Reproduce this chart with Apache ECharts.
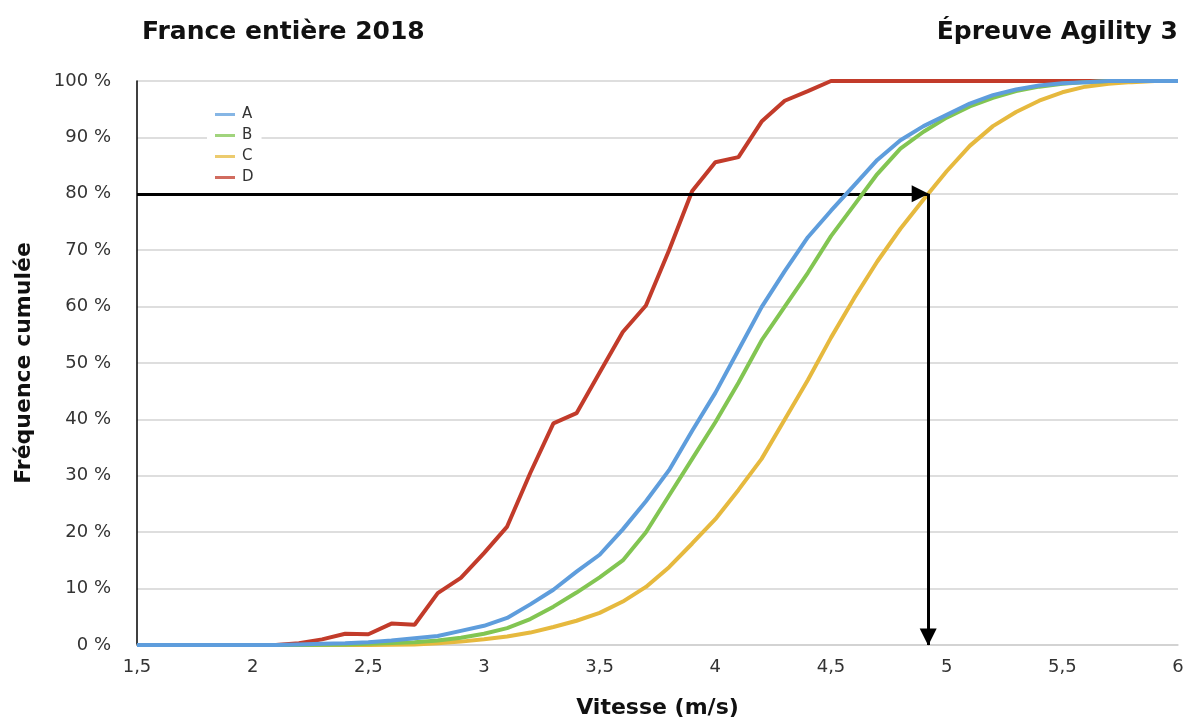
<!DOCTYPE html>
<html>
<head>
<meta charset="utf-8">
<script src="https://cdn.jsdelivr.net/npm/echarts@6/dist/echarts.min.js"></script>
<style>
html,body{margin:0;padding:0;background:#fff;}
#chart{width:1189px;height:722px;}
</style>
</head>
<body>
<div id="chart"></div>
<script>
// Speeds (m/s)
const speeds = [1.5,1.6,1.7,1.8,1.9,2.0,2.1,2.2,2.3,2.4,2.5,2.6,2.7,2.8,2.9,3.0,3.1,3.2,3.3,3.4,3.5,3.6,3.7,3.8,3.9,4.0,4.1,4.2,4.3,4.4,4.5,4.6,4.7,4.8,4.9,5.0,5.1,5.2,5.3,5.4,5.5,5.6,5.7,5.8,5.9,6.0];
// Cumulative frequency (%)
const seriesA = [0,0,0,0,0,0,0,0.1,0.2,0.3,0.5,0.8,1.2,1.6,2.5,3.4,4.8,7.2,9.8,13,16,20.5,25.5,31,38,44.7,52.3,59.9,66.3,72.3,77,81.5,86,89.5,92,94,96,97.5,98.5,99.2,99.6,99.8,100,100,100,100];
const seriesB = [0,0,0,0,0,0,0,0,0.05,0.1,0.2,0.35,0.5,0.8,1.3,2,3,4.6,6.8,9.3,12,15,20,26.5,33,39.5,46.5,54,60,66,72.5,78,83.5,88,91,93.5,95.5,97,98.2,99,99.5,99.8,100,100,100,100];
const seriesC = [0,0,0,0,0,0,0,0,0,0,0,0.05,0.1,0.3,0.6,1,1.5,2.2,3.2,4.3,5.7,7.7,10.3,13.8,18,22.3,27.5,33,40,47,54.5,61.5,68,73.8,79,84,88.5,92,94.5,96.5,98,99,99.5,99.8,100,100];
const seriesD = [0,0,0,0,0,0,0,0.3,1.0,2.0,1.9,3.8,3.6,9.2,11.9,16.3,21,30.5,39.3,41.1,48.3,55.5,60.2,70,80.5,85.6,86.5,92.8,96.5,98.2,100,100,100,100,100,100,100,100,100,100,100,100,100,100,100,100];
const seriesNames = ['A','B','C','D'];
const xTickValues = [1.5,2,2.5,3,3.5,4,4.5,5,5.5,6];
const xTickLabels = ['1,5','2','2,5','3','3,5','4','4,5','5','5,5','6'];
const yTickValues = [0,10,20,30,40,50,60,70,80,90,100];
const yTickLabels = ['0 %','10 %','20 %','30 %','40 %','50 %','60 %','70 %','80 %','90 %','100 %'];
// Reading arrow: 80 % reached at this speed
const arrowSpeed = 4.92;
const arrowFreq = 80;

const colors = ['#5e9ddc','#82c552','#e6b93e','#c23b2a'];
const values = [seriesA, seriesB, seriesC, seriesD];
const zs = [6,5,4,3];
const font = 'DejaVu Sans';

const chart = echarts.init(document.getElementById('chart'), null, {renderer:'canvas'});

const lineSeries = seriesNames.map((n,i)=>({
  name:n, type:'line', symbol:'none', z:zs[i],
  data: speeds.map((s,k)=>[s, values[i][k]]),
  lineStyle:{color:colors[i], width:4},
  itemStyle:{color:colors[i]},
  emphasis:{disabled:true}
}));

lineSeries.push({
  name:'arrows', type:'line', data:[], z:10, silent:true,
  markLine:{
    silent:true, animation:false,
    symbol:['none','triangle'], symbolSize:17,
    symbolOffset:[[0,0],[0,8]],
    label:{show:false},
    lineStyle:{color:'#000', width:3, type:'solid'},
    emphasis:{disabled:true},
    data:[
      [{coord:[speeds[0], arrowFreq]},{coord:[arrowSpeed, arrowFreq]}],
      [{coord:[arrowSpeed, arrowFreq]},{coord:[arrowSpeed, 0]}]
    ]
  }
});

chart.setOption({
  animation:false,
  backgroundColor:'#fff',
  title:[
    {text:'France entière 2018', left:142, top:20, padding:0, textStyle:{fontFamily:font, fontWeight:'bold', fontSize:25, color:'#111'}},
    {text:'Épreuve Agility 3', right:11, top:20, padding:0, textStyle:{fontFamily:font, fontWeight:'bold', fontSize:25, color:'#111'}}
  ],
  legend:{
    data:seriesNames, orient:'vertical', left:207, top:105,
    icon:'rect', itemWidth:20, itemHeight:3, itemGap:6,
    backgroundColor:'#fff', padding:[2,8,2,8],
    textStyle:{fontFamily:font, fontSize:15, color:'#333', padding:[0,0,0,2]},
    itemStyle:{opacity:0.75},
    selectedMode:false
  },
  grid:{left:137, right:11, top:81, bottom:77, containLabel:false, outerBoundsMode:'none'},
  xAxis:{
    type:'value', min:1.5, max:6, interval:0.5,
    name:'Vitesse (m/s)', nameLocation:'middle', nameGap:52,
    nameTextStyle:{fontFamily:font, fontWeight:'bold', fontSize:22, color:'#111'},
    axisLine:{show:true, lineStyle:{color:'#cfcfcf', width:1.5}},
    axisTick:{show:false},
    splitLine:{show:false},
    axisLabel:{fontFamily:font, fontSize:18, color:'#333', margin:13,
      formatter:v=>{const i=xTickValues.findIndex(t=>Math.abs(t-v)<1e-6); return i>=0?xTickLabels[i]:'';}}
  },
  yAxis:{
    type:'value', min:0, max:100, interval:10,
    name:'Fréquence cumulée', nameLocation:'middle', nameGap:102,
    nameTextStyle:{fontFamily:font, fontWeight:'bold', fontSize:22, color:'#111'},
    axisLine:{show:true, lineStyle:{color:'#000', width:1.5}},
    axisTick:{show:false},
    splitLine:{show:true, lineStyle:{color:'#d3d3d3', width:1.5}},
    axisLabel:{fontFamily:font, fontSize:18, color:'#333', margin:26,
      formatter:v=>{const i=yTickValues.indexOf(Math.round(v)); return i>=0?yTickLabels[i]:'';}}
  },
  series:lineSeries
});
</script>
</body>
</html>
